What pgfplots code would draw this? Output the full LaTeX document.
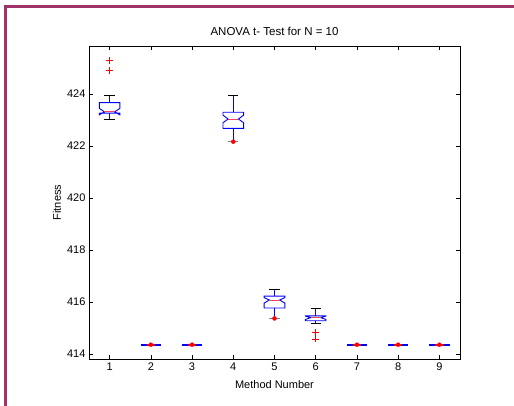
\documentclass[border=0pt]{standalone}
\usepackage{pgfplots}
\pgfplotsset{compat=1.18}
\usepackage{fontspec}
\setmainfont{Liberation Sans}
\definecolor{framepurple}{RGB}{160,52,104}
\definecolor{medred}{RGB}{240,70,90}

\begin{document}
\begin{tikzpicture}
\useasboundingbox (0pt,0pt) rectangle (514pt,406pt);
% page frame
\fill[framepurple] (3.5pt,0pt) rectangle (6.5pt,400.5pt);
\fill[framepurple] (3.5pt,397.5pt) rectangle (514pt,400.5pt);
\begin{axis}[
    at={(89pt,47pt)}, anchor=south west,
    scale only axis,
    width=371pt, height=313pt,
    xmin=0.5, xmax=9.5,
    ymin=413.81, ymax=425.85,
    xtick={1,...,9},
    ytick={414,416,...,424},
    tick align=inside,
    major tick length=4pt,
    axis line style={line width=0.9pt},
    tick style={black, line width=0.5pt},
    font=\fontsize{11}{13}\selectfont,
    /pgf/number format/assume math mode=true,
    /pgf/number format/1000 sep={},
    title={ANOVA t- Test for N = 10},
    title style={at={(0.5,1)}, anchor=south, yshift=0.5pt, font=\fontsize{11.5}{13}\selectfont},
    xlabel={Method Number},
    xlabel style={at={(axis description cs:0.5,0)}, anchor=center, yshift=-26pt},
    ylabel={Fitness},
    ylabel style={at={(axis description cs:-0.0863,0.5)}, anchor=center},
    box/.style={blue, line width=0.9pt},
    med/.style={medred, line width=0.9pt},
    whisk/.style={blue, line width=0.7pt},
    cap/.style={black, line width=0.8pt},
    outl/.style={red, only marks, mark=+, mark size=3.4pt, line width=0.85pt, mark options={red, solid}},
    dot/.style={only marks, color=red, mark=*, mark size=2pt, mark options={draw=red, fill=red}},
    flat/.style={blue, line width=2pt},
    flatmed/.style={red, line width=2pt},
]
% ---- method 1
\addplot[whisk] coordinates {(1,423.67) (1,423.96)};
\addplot[whisk] coordinates {(1,423.27) (1,423.04)};
\addplot[cap] coordinates {(0.875,423.96) (1.125,423.96)};
\addplot[cap] coordinates {(0.875,423.04) (1.125,423.04)};
\addplot[box] coordinates {(0.75,423.27) (0.75,423.20) (0.875,423.32) (0.75,423.45) (0.75,423.67)
    (1.25,423.67) (1.25,423.45) (1.125,423.32) (1.25,423.20) (1.25,423.27) (0.75,423.27)};
\addplot[med] coordinates {(0.875,423.32) (1.125,423.32)};
\addplot[outl] coordinates {(1,425.28) (1,424.92)};
% ---- methods 2, 3, 7, 8, 9 (no spread)
\addplot[flat] coordinates {(1.75,414.36) (2.25,414.36)};
\addplot[flat] coordinates {(2.75,414.36) (3.25,414.36)};
\addplot[flat] coordinates {(6.75,414.36) (7.25,414.36)};
\addplot[flat] coordinates {(7.75,414.36) (8.25,414.36)};
\addplot[flat] coordinates {(8.75,414.36) (9.25,414.36)};
\addplot[flatmed] coordinates {(1.9,414.36) (2.1,414.36)};
\addplot[flatmed] coordinates {(2.9,414.36) (3.1,414.36)};
\addplot[flatmed] coordinates {(6.9,414.36) (7.1,414.36)};
\addplot[flatmed] coordinates {(7.9,414.36) (8.1,414.36)};
\addplot[flatmed] coordinates {(8.9,414.36) (9.1,414.36)};
\addplot[dot] coordinates {(2,414.36) (3,414.36) (7,414.36) (8,414.36) (9,414.36)};
% ---- method 4
\addplot[whisk] coordinates {(4,423.30) (4,423.96)};
\addplot[whisk] coordinates {(4,422.68) (4,422.17)};
\addplot[cap] coordinates {(3.875,423.96) (4.125,423.96)};
\addplot[cap, gray] coordinates {(3.875,422.17) (4.125,422.17)};
\addplot[box] coordinates {(3.75,422.68) (3.75,422.90) (3.875,423.04) (3.75,423.19) (3.75,423.30)
    (4.25,423.30) (4.25,423.19) (4.125,423.04) (4.25,422.90) (4.25,422.68) (3.75,422.68)};
\addplot[med] coordinates {(3.875,423.04) (4.125,423.04)};
\addplot[dot] coordinates {(4,422.17)};
% ---- method 5
\addplot[whisk] coordinates {(5,416.23) (5,416.50)};
\addplot[whisk] coordinates {(5,415.77) (5,415.37)};
\addplot[cap] coordinates {(4.875,416.50) (5.125,416.50)};
\addplot[cap, gray] coordinates {(4.875,415.37) (5.125,415.37)};
\addplot[box] coordinates {(4.75,415.77) (4.75,415.96) (4.875,416.08) (4.75,416.17) (4.75,416.23)
    (5.25,416.23) (5.25,416.17) (5.125,416.08) (5.25,415.96) (5.25,415.77) (4.75,415.77)};
\addplot[med] coordinates {(4.875,416.08) (5.125,416.08)};
\addplot[dot] coordinates {(5,415.37)};
% ---- method 6
\addplot[whisk] coordinates {(6,415.47) (6,415.77)};
\addplot[whisk] coordinates {(6,415.28) (6,415.18)};
\addplot[cap] coordinates {(5.875,415.77) (6.125,415.77)};
\addplot[cap] coordinates {(5.875,415.18) (6.125,415.18)};
\addplot[box] coordinates {(5.75,415.28) (5.75,415.33) (5.875,415.40) (5.75,415.46) (5.75,415.47)
    (6.25,415.47) (6.25,415.46) (6.125,415.40) (6.25,415.33) (6.25,415.28) (5.75,415.28)};
\addplot[med] coordinates {(5.875,415.40) (6.125,415.40)};
\addplot[outl] coordinates {(6,414.84) (6,414.58)};
\end{axis}
\end{tikzpicture}
\end{document}
